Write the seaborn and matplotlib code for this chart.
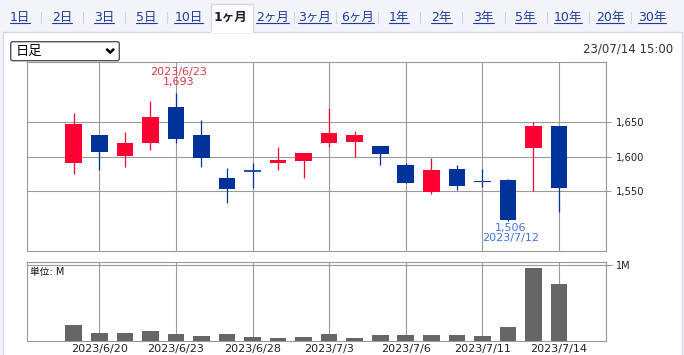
import numpy as np
import pandas as pd
import matplotlib.pyplot as plt
from matplotlib.patches import Rectangle, FancyBboxPatch
import seaborn as sns

dates = ["2023/6/19", "2023/6/20", "2023/6/21", "2023/6/22", "2023/6/23",
         "2023/6/26", "2023/6/27", "2023/6/28", "2023/6/29", "2023/6/30",
         "2023/7/3", "2023/7/4", "2023/7/5", "2023/7/6", "2023/7/7",
         "2023/7/10", "2023/7/11", "2023/7/12", "2023/7/13", "2023/7/14"]
opens = [1591, 1632, 1601, 1620, 1672, 1632, 1569, 1579, 1591, 1594,
         1620, 1622, 1615, 1588, 1549, 1582, 1564, 1566, 1613, 1645]
highs = [1664, 1632, 1636, 1681, 1693, 1653, 1583, 1591, 1614, 1605,
         1671, 1637, 1615, 1591, 1598, 1588, 1582, 1567, 1650, 1645]
lows = [1575, 1581, 1585, 1610, 1620, 1585, 1532, 1555, 1581, 1569,
        1614, 1600, 1588, 1561, 1545, 1552, 1556, 1506, 1550, 1520]
closes = [1648, 1607, 1620, 1658, 1626, 1598, 1553, 1579, 1595, 1605,
          1634, 1632, 1604, 1561, 1581, 1558, 1563, 1508, 1645, 1555]
volumes = [0.21, 0.105, 0.105, 0.13, 0.092, 0.066, 0.092, 0.052, 0.04, 0.052,
           0.092, 0.04, 0.079, 0.079, 0.079, 0.079, 0.066, 0.18, 0.955, 0.745]  # M

tick_dates = ["2023/6/20", "2023/6/23", "2023/6/28", "2023/7/3",
              "2023/7/6", "2023/7/11", "2023/7/14"]
price_ticks = [1550, 1600, 1650]
tabs = ["1日", "2日", "3日", "5日", "10日", "1ヶ月", "2ヶ月", "3ヶ月", "6ヶ月",
        "1年", "2年", "3年", "5年", "10年", "20年", "30年"]
selected_tab = "1ヶ月"

UP = "#ff0033"
DOWN = "#003399"
GRID = "#9a9a9a"

sns.set_style("white")
plt.rcParams["font.family"] = ["DejaVu Sans", "Noto Sans CJK JP"]

df = pd.DataFrame({"date": dates, "open": opens, "high": highs,
                   "low": lows, "close": closes, "volume": volumes})
df["pos"] = np.arange(len(df))
df["color"] = np.where(df["close"] > df["open"], UP, DOWN)
df["body_lo"] = df[["open", "close"]].min(axis=1)
df["body_h"] = (df["close"] - df["open"]).abs()
tick_pos = [dates.index(d) for d in tick_dates]

W, H = 684, 355
fig = plt.figure(figsize=(W / 100, H / 100), dpi=100, facecolor="#f2f4f9")

# page furniture in pixel coordinates
bg = fig.add_axes([0, 0, 1, 1], zorder=0)
bg.set_xlim(0, W)
bg.set_ylim(H, 0)
bg.axis("off")
bg.add_patch(Rectangle((3, 32), 678.5, 330, facecolor="white", edgecolor="#d3d8e3", lw=1))
bg.add_patch(Rectangle((211, 4), 41.5, 28, facecolor="white", edgecolor="#d3d8e3", lw=1))
bg.plot([211.6, 251.9], [32, 32], color="white", lw=1.6)

tab_x = np.linspace(20, 652, len(tabs))
tab_texts = []
for i, (x, lab) in enumerate(zip(tab_x, tabs)):
    sel = lab == selected_tab
    t = bg.text(x, 17, lab, ha="center", va="center", fontsize=9,
                color="#1b1b2a" if sel else "#1f3c99",
                fontweight="bold" if sel else "normal")
    if not sel:
        tab_texts.append(t)
    if i < len(tabs) - 1 and lab != selected_tab and tabs[i + 1] != selected_tab:
        xm = (x + tab_x[i + 1]) / 2
        bg.plot([xm, xm], [11.5, 22.5], color="#d0d4dc", lw=0.8)

bg.add_patch(FancyBboxPatch((10.7, 41.7), 108.6, 19,
                            boxstyle="round,pad=0,rounding_size=2",
                            facecolor="white", edgecolor="#555555", lw=1))
bg.text(16, 51.5, "日足", ha="left", va="center", fontsize=9.5, color="black")
bg.plot([106.3, 110.2, 114.1], [48.8, 52.6, 48.8], color="black", lw=1.8,
        solid_capstyle="butt", solid_joinstyle="miter")
bg.text(673, 49.5, "23/07/14 15:00", ha="right", va="center", fontsize=8.5, color="#333333")

# price panel
ax = fig.add_axes([27 / W, 1 - 251 / H, 579 / W, 189 / H], zorder=1)
ax.set_facecolor("white")
ax.vlines(df["pos"], df["low"], df["high"], colors=df["color"], lw=0.9, zorder=3)
ax.bar(df["pos"], df["body_h"], bottom=df["body_lo"], width=0.65,
       color=df["color"], linewidth=0, zorder=4)
doji = df[df["body_h"] < 1]
ax.hlines(doji["open"], doji["pos"] - 0.325, doji["pos"] + 0.325,
          colors=doji["color"], lw=1.2, zorder=4)

ax.set_xlim(-1.83, 20.84)
ax.set_ylim(1462.7, 1737.8)
ax.set_xticks(tick_pos)
ax.set_yticks(price_ticks, [f"{v:,}" for v in price_ticks])
ax.yaxis.tick_right()
ax.tick_params(axis="x", length=0, labelbottom=False)
ax.tick_params(axis="y", length=3.8, width=0.8, color=GRID, pad=3.6,
               labelsize=7.2, labelcolor="#222222", left=False, right=True)
ax.grid(True, color=GRID, lw=0.8)
ax.set_axisbelow(True)
for s in ax.spines.values():
    s.set_color(GRID)
    s.set_linewidth(0.8)

hi = df.loc[df["high"].idxmax()]
lo = df.loc[df["low"].idxmin()]
ax.annotate(f"{hi['date']}\n{hi['high']:,}", (hi["pos"], hi["high"]),
            xytext=(2, 4), textcoords="offset points", ha="center", va="bottom",
            fontsize=8, color="#dc3a45", linespacing=1.0, zorder=5)
ax.annotate(f"{lo['low']:,}\n{lo['date']}", (lo["pos"], lo["low"]),
            xytext=(2, -1.5), textcoords="offset points", ha="center", va="top",
            fontsize=8, color="#4172e6", linespacing=1.0, zorder=5)

# volume panel
axv = fig.add_axes([27 / W, 1 - 341 / H, 579 / W, 78.7 / H], zorder=1)
axv.set_facecolor("white")
sns.barplot(data=df, x="pos", y="volume", color="#666666", width=0.65,
            saturation=1, errorbar=None, native_scale=True, ax=axv, zorder=3)
for p in axv.patches:
    p.set_linewidth(0)
axv.set_xlim(-1.83, 20.84)
axv.set_ylim(0, 1.031)
axv.set_xticks(tick_pos, tick_dates)
axv.set_yticks([1.0], ["1M"])
axv.yaxis.tick_right()
axv.set_xlabel("")
axv.set_ylabel("")
axv.tick_params(axis="x", length=0, pad=2, labelsize=8, labelcolor="#222222")
axv.tick_params(axis="y", length=4.3, width=0.8, color=GRID, pad=3,
                labelsize=7, labelcolor="#222222", left=False, right=True)
axv.grid(True, color=GRID, lw=0.8)
axv.set_axisbelow(True)
for s in axv.spines.values():
    s.set_color(GRID)
    s.set_linewidth(0.8)
axv.text(0.006, 0.94, "単位: M", transform=axv.transAxes, ha="left", va="top",
         fontsize=7, color="#111111")

# underline the tab links
fig.canvas.draw()
r = fig.canvas.get_renderer()
inv = bg.transData.inverted()
for t in tab_texts:
    bb = t.get_window_extent(r)
    (x0, _), (x1, _) = inv.transform([(bb.x0, bb.y0), (bb.x1, bb.y0)])
    bg.plot([x0, x1], [22.8, 22.8], color="#1f3c99", lw=0.8)

fig.savefig("out.png", dpi=100, facecolor=fig.get_facecolor())
